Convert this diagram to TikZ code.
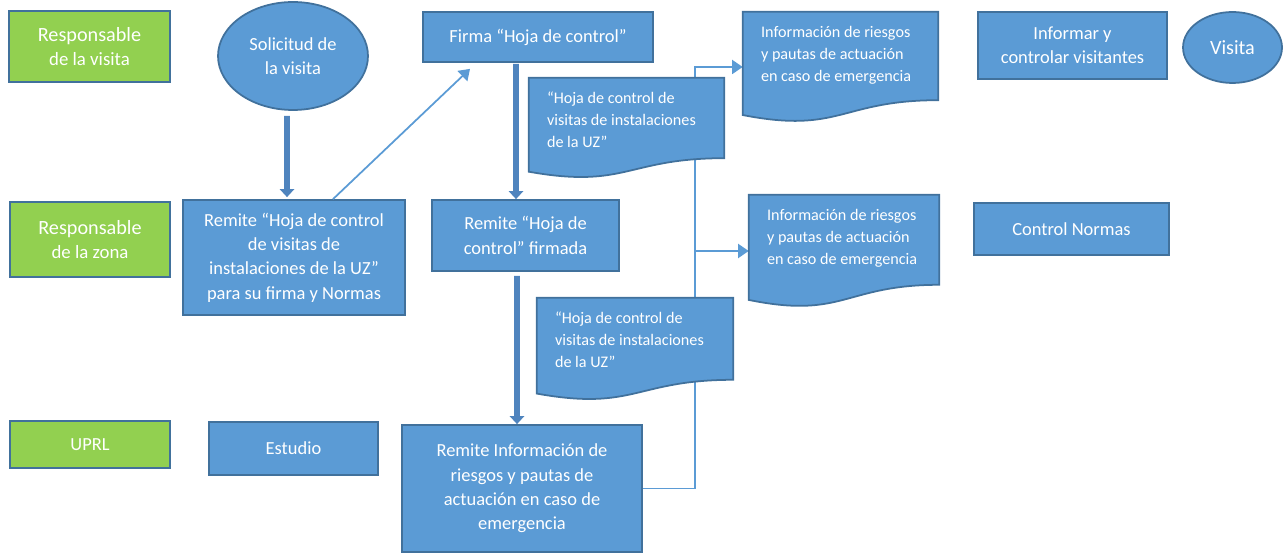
\documentclass[tikz,border=0pt]{standalone}
\usepackage{fontspec}
\setmainfont{Carlito}
\usetikzlibrary{shapes.geometric,arrows.meta,calc,backgrounds}

\definecolor{boxblue}{HTML}{5B9BD5}
\definecolor{edgeblue}{HTML}{41719C}
\definecolor{rolegreen}{HTML}{92D050}
\definecolor{shaftblue}{HTML}{4F84BE}

% wavy bottom of a document shape, drawn round a named node
\newcommand{\docoutline}[1]{%
  \filldraw[docline] (#1.north west) -- (#1.north east)
    -- ($(#1.north east)!0.8!(#1.south east)$)
    .. controls ($(#1.north)!0.8!(#1.south)$) and ($(#1.north)!1.107!(#1.south)$)
    .. ($(#1.north west)!0.934!(#1.south west)$) -- cycle;}

\begin{document}
\begin{tikzpicture}[x=0.02cm, y=-0.02cm,
    every node/.style={text=white, font=\fontsize{10.5}{13.8}\selectfont, align=center, inner sep=0pt},
    box/.style={rectangle, draw=edgeblue, fill=boxblue, line width=1pt},
    role/.style={rectangle, draw=edgeblue, fill=rolegreen, line width=1pt},
    oval/.style={ellipse, draw=edgeblue, fill=boxblue, line width=1pt},
    doctext/.style={anchor=north west, align=left, font=\fontsize{9.2}{12.5}\selectfont, xshift=0.36cm, yshift=-0.28cm},
    docline/.style={draw=edgeblue, fill=boxblue, line width=1pt},
    flow/.style={draw=boxblue, line width=1pt, -{Triangle[length=6pt,width=8pt]}},
    bigflow/.style={draw=shaftblue, line width=3.4pt, -{Triangle[length=4.5pt,width=8pt]}}]

        \useasboundingbox (0, 0) rectangle (1287, 553);

        % roles
        \node[role, minimum width=3.22cm, minimum height=1.42cm] (visita-resp) at (89.5, 46.5)
            {{\fontsize{11.5}{14}\selectfont Responsable}\\{\fontsize{10.7}{15}\selectfont de la visita}};
        \node[role, minimum width=3.2cm, minimum height=1.5cm] (zona-resp) at (90, 239.5)
            {{\fontsize{11.5}{14}\selectfont Responsable}\\{\fontsize{10.7}{15}\selectfont de la zona}};
        \node[role, minimum width=3.2cm, minimum height=0.94cm] (uprl) at (90, 444.5) {UPRL};

        % steps
        \node[oval, minimum width=3.0cm, minimum height=2.16cm] (solicitud) at (293, 56) {Solicitud de\\la visita};
        \node[box, minimum width=4.44cm, minimum height=2.3cm] (remhoja) at (294, 257.5)
            {Remite “Hoja de control\\de visitas de\\instalaciones de la UZ”\\para su firma y Normas};
        \node[box, minimum width=3.38cm, minimum height=1.06cm] (estudio) at (293.5, 448.5) {Estudio};
        \node[box, minimum width=4.6cm, minimum height=1.0cm] (firma) at (538, 37) {Firma “Hoja de control”};
        \node[box, minimum width=3.74cm, minimum height=1.42cm] (remfirm) at (525.5, 235.5) {Remite “Hoja de\\control” firmada};
        \node[box, minimum width=4.8cm, minimum height=2.54cm] (info) at (522, 488.5)
            {Remite Información de\\riesgos y pautas de\\actuación en caso de\\emergencia};
        \node[box, minimum width=3.78cm, minimum height=1.34cm] (informar) at (1072.5, 45.5) {Informar y\\controlar visitantes};
        \node[oval, minimum width=1.98cm, minimum height=1.42cm, font=\fontsize{11.5}{14}\selectfont] (visita) at (1232.5, 47.5) {Visita};
        \node[box, minimum width=3.9cm, minimum height=1.04cm] (normas) at (1071.5, 229) {Control Normas};

        % documents
        \node[minimum width=3.9cm, minimum height=2.2cm,
            label={[doctext]north west:Información de riesgos\\y pautas de actuación\\en caso de emergencia}] (docA) at (840.5, 67) {};
        \node[minimum width=3.9cm, minimum height=2.0cm,
            label={[doctext]north west:“Hoja de control de\\visitas de instalaciones\\de la UZ”}] (docB) at (626.5, 128) {};
        \node[minimum width=3.8cm, minimum height=2.24cm,
            label={[doctext]north west:Información de riesgos\\y pautas de actuación\\en caso de emergencia}] (docC) at (844, 251) {};
        \node[minimum width=3.92cm, minimum height=2.04cm,
            label={[doctext]north west:“Hoja de control de\\visitas de instalaciones\\de la UZ”}] (docD) at (635, 349) {};
        \coordinate (bus) at (695, 251);

        \draw[bigflow] ([xshift=-0.12cm, yshift=-0.1cm]solicitud.south) -- ([xshift=-0.14cm, yshift=0.04cm]remhoja.north);
        \draw[flow] ([xshift=0.78cm]remhoja.north) -- ([xshift=-1.36cm, yshift=-0.12cm]firma.south);
        \draw[bigflow] ([xshift=-0.44cm, yshift=-0.02cm]firma.south) -- ([xshift=-0.19cm]remfirm.north);
        \draw[bigflow] ([xshift=-0.17cm, yshift=-0.08cm]remfirm.south) -- ([xshift=-0.1cm]info.north);

        \begin{pgfonlayer}{background}
            \draw[flow] (info.east) -| (bus) |- (docA.west);
            \draw[flow] (bus) -- (docC.west);
            \docoutline{docA}
            \docoutline{docB}
            \docoutline{docC}
            \docoutline{docD}
        \end{pgfonlayer}

    \end{tikzpicture}
\end{document}
